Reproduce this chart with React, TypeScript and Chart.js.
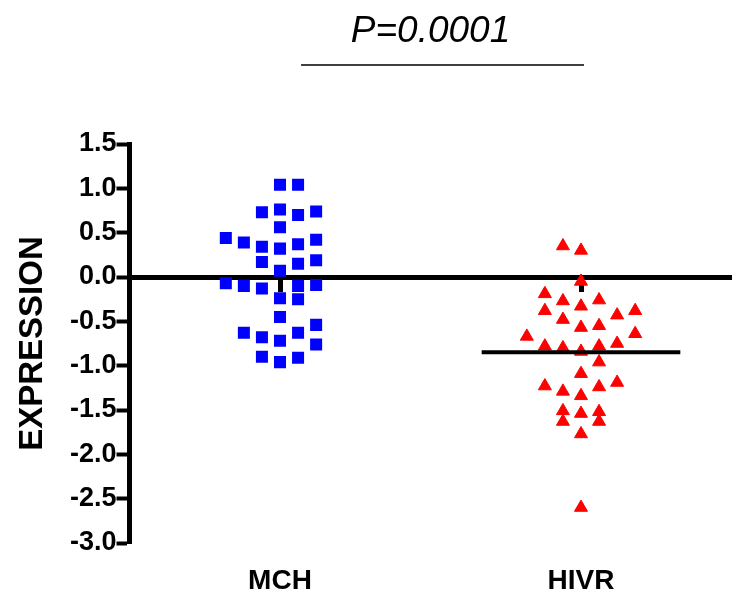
import React, { useEffect, useRef } from 'react';
import { Chart, registerables } from 'chart.js';

Chart.register(...registerables);

const categories = ['MCH', 'HIVR'];

const mchValues = [
  1.04, 1.04,
  0.73, 0.76, 0.70, 0.74,
  0.56,
  0.44, 0.39, 0.34, 0.32, 0.37, 0.42,
  0.17, 0.15, 0.19,
  0.07,
  -0.07, -0.10, -0.13, -0.10, -0.09,
  -0.24, -0.25,
  -0.45,
  -0.63, -0.68, -0.72, -0.63, -0.54,
  -0.76,
  -0.90, -0.96, -0.91,
];
const mchSlots = [
  0, 1,
  -1, 0, 1, 2,
  0,
  -3, -2, -1, 0, 1, 2,
  -1, 1, 2,
  0,
  -3, -2, -1, 1, 2,
  0, 1,
  0,
  -2, -1, 0, 1, 2,
  2,
  -1, 0, 1,
];

const hivrValues = [
  0.35, 0.30,
  -0.05,
  -0.19, -0.27, -0.33, -0.26,
  -0.38, -0.48, -0.57, -0.55, -0.43, -0.38,
  -0.67, -0.78, -0.80, -0.84, -0.78, -0.75, -0.64,
  -0.96,
  -1.09,
  -1.23, -1.29, -1.24, -1.19,
  -1.34,
  -1.51, -1.54, -1.52,
  -1.63, -1.63,
  -1.77,
  -2.60,
];
const hivrSlots = [
  -1, 0,
  0,
  -2, -1, 0, 1,
  -2, -1, 0, 1, 2, 3,
  -3, -2, -1, 0, 1, 2, 3,
  1,
  0,
  -2, -1, 1, 2,
  0,
  -1, 0, 1,
  -1, 1,
  0,
  0,
];

const hivrMean = -0.85;
const pValueText = 'P=0.0001';
const yAxisTitle = 'EXPRESSION';
const yMin = -3.0;
const yMax = 1.5;
const yStep = 0.5;

const FONT = '"Liberation Sans", Arial, Helvetica, sans-serif';
const SLOT = 0.06;
const MEAN_HALF = 0.33;

const toPoints = (vals: number[], slots: number[], center: number) =>
  vals.map((v, i) => ({ x: center + slots[i] * SLOT, y: v }));

const underlinePlugin = {
  id: 'pUnderline',
  afterDraw(chart: any) {
    const { ctx } = chart;
    const x = chart.scales.x;
    ctx.save();
    ctx.strokeStyle = '#000';
    ctx.lineWidth = 1.5;
    ctx.beginPath();
    ctx.moveTo(x.getPixelForValue(1.07), 65);
    ctx.lineTo(x.getPixelForValue(2.01), 65);
    ctx.stroke();
    ctx.restore();
  },
};

export default function App() {
  const ref = useRef<HTMLCanvasElement | null>(null);

  useEffect(() => {
    if (!ref.current) return;
    const chart = new Chart(ref.current, {
      type: 'scatter',
      data: {
        datasets: [
          {
            label: 'HIVR mean',
            data: [
              { x: 2 - MEAN_HALF, y: hivrMean },
              { x: 2 + MEAN_HALF, y: hivrMean },
            ],
            showLine: true,
            borderColor: '#000',
            borderWidth: 4,
            pointRadius: 0,
            order: 0,
          } as any,
          {
            label: categories[0],
            data: toPoints(mchValues, mchSlots, 1),
            pointStyle: 'rect',
            pointRadius: 8.5,
            pointBorderWidth: 0,
            backgroundColor: '#0000ff',
            borderColor: '#0000ff',
            order: 1,
          },
          {
            label: categories[1],
            data: toPoints(hivrValues, hivrSlots, 2),
            pointStyle: 'triangle',
            pointRadius: 7.5,
            pointBorderWidth: 1,
            backgroundColor: '#ff0000',
            borderColor: '#ff0000',
            order: 2,
          },
        ],
      },
      options: {
        animation: false,
        responsive: false,
        layout: { padding: { left: 0, right: 7, top: 0, bottom: 0 } },
        plugins: {
          legend: { display: false },
          tooltip: { enabled: false },
          title: {
            display: true,
            text: pValueText,
            fullSize: false,
            color: '#000',
            font: { family: FONT, size: 37, style: 'italic', weight: 'normal' },
            padding: { top: 10, bottom: 89.6 },
          },
        },
        scales: {
          x: {
            type: 'linear',
            position: 'bottom',
            min: 0.5,
            max: 2.5,
            afterBuildTicks: (s: any) => {
              s.ticks = [{ value: 1 }, { value: 2 }];
            },
            afterFit: (s: any) => {
              s.height = 62;
            },
            grid: { display: false, drawTicks: false, tickLength: 0 },
            border: { display: false },
            ticks: {
              color: '#000',
              padding: 21,
              font: { family: FONT, size: 28, weight: 'bold' },
              callback: (v: any) => categories[Math.round(Number(v)) - 1] ?? '',
            },
          },
          x2: {
            type: 'linear',
            position: { y: 0 },
            min: 0.5,
            max: 2.5,
            z: 1,
            afterBuildTicks: (s: any) => {
              s.ticks = [{ value: 1 }, { value: 2 }];
            },
            grid: {
              display: true,
              drawOnChartArea: false,
              drawTicks: true,
              tickLength: 12,
              tickWidth: 5,
              tickColor: '#000',
            },
            border: { display: true, color: '#000', width: 5 },
            ticks: { display: false },
          },
          y: {
            type: 'linear',
            position: 'left',
            min: yMin,
            max: yMax,
            afterFit: (s: any) => {
              s.width = 129.5;
            },
            grid: {
              display: true,
              drawOnChartArea: false,
              drawTicks: true,
              tickLength: 13,
              tickWidth: 4,
              tickColor: '#000',
            },
            border: { display: true, color: '#000', width: 5 },
            ticks: {
              stepSize: yStep,
              color: '#000',
              padding: 0,
              font: { family: FONT, size: 27, weight: 'bold' },
              callback: (v: any) => Number(v).toFixed(1),
            },
            title: {
              display: true,
              text: yAxisTitle,
              color: '#000',
              font: { family: FONT, size: 33, weight: 'bold' },
              padding: { top: 12.7, bottom: 0 },
            },
          },
        },
      } as any,
      plugins: [underlinePlugin],
    });
    return () => chart.destroy();
  }, []);

  return (
    <div style={{ position: 'absolute', left: 0, top: 0, width: 740, height: 605 }}>
      <canvas ref={ref} width={740} height={605} />
    </div>
  );
}
